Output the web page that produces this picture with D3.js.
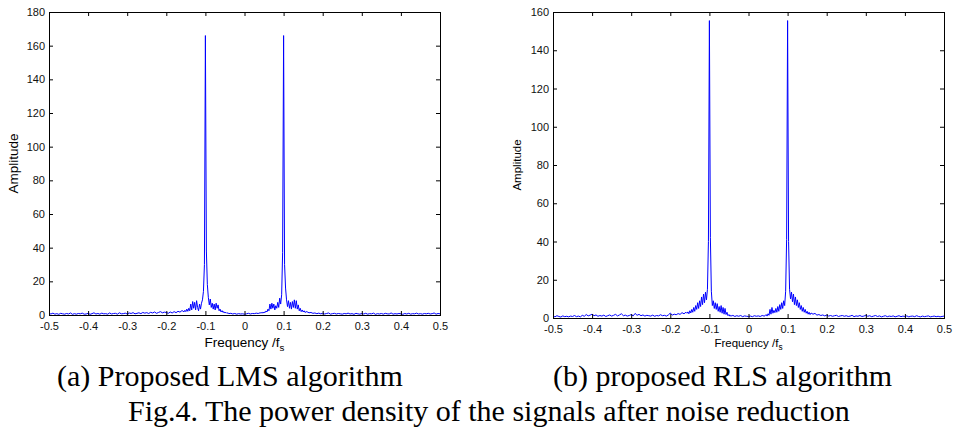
<!DOCTYPE html>
<html>
<head>
<meta charset="utf-8">
<script src="https://cdn.jsdelivr.net/npm/d3@7"></script>
<style>
    body { margin: 0; background: #fff; }
    svg { display: block; }
    .axis text { font-family: 'Liberation Sans', Arial, sans-serif; fill: #111; }
    .axis line { stroke: #000; }
    .caption { font-family: 'Liberation Serif', 'Times New Roman', serif; fill: #000; }
</style>
</head>
<body>
<script>
/* global d3 */

// frequency bins (normalised by fs): 0.005 apart in the flat parts,
// 0.0025 apart around the two tones
const seg = (a, b, step) => d3.range(Math.round((b - a) / step) + 1).map(k => +(a + k * step).toFixed(4));
const freqBins = [].concat(
    seg(-0.5, -0.16, 0.005),
    seg(-0.1575, -0.0425, 0.0025),
    seg(-0.04, 0.04, 0.005),
    seg(0.0425, 0.1575, 0.0025),
    seg(0.16, 0.5, 0.005)
);

const xTicks = [-0.5, -0.4, -0.3, -0.2, -0.1, 0, 0.1, 0.2, 0.3, 0.4, 0.5];
const yTicksLms = [0, 20, 40, 60, 80, 100, 120, 140, 160, 180];
const yTicksRls = [0, 20, 40, 60, 80, 100, 120, 140, 160];

// (a) proposed LMS, amplitude per bin
const ampLms = [
    // -0.5 .. -0.16
    0.9, 0.6, 1.1, 0.5, 0.8, 0.4, 1.0, 0.7, 0.5, 0.9,
    0.6, 1.2, 0.4, 0.8, 0.5, 0.9, 0.7, 1.1, 0.5, 0.6,
    1.0, 0.4, 0.8, 1.3, 0.6, 0.9, 0.5, 1.1, 0.7, 0.8,
    0.5, 1.2, 0.6, 0.9, 1.0, 0.5, 1.3, 0.7, 0.8, 1.1,
    0.6, 1.2, 0.9, 1.4, 0.7, 1.0, 1.3, 0.8, 1.5, 1.1,
    1.4, 0.9, 1.6, 1.2, 1.8, 1.0, 1.5, 2.0, 1.3, 1.7,
    1.5, 1.0, 1.8, 1.2, 2.0, 1.4, 2.2, 1.7, 2.6,
    // -0.1575 .. -0.0425
    2.4, 1.8, 2.8, 2.0, 3.5, 2.2, 4.0, 2.5, 6.5, 3.0,
    8.0, 4.0, 7.5, 3.0, 8.5, 4.5, 2.5, 6.5, 3.5, 7.0,
    9.0, 14, 30, 166, 38, 18, 10.5, 6.0, 9.5, 4.5,
    7.0, 3.5, 6.5, 3.0, 7.0, 4.0, 6.0, 2.5, 3.5, 1.8,
    2.6, 1.5, 2.0, 1.2, 1.6, 1.0, 1.3,
    // -0.04 .. 0.04
    0.8, 1.0, 0.6, 0.9, 0.5, 0.8, 0.6, 0.7, 0.5, 0.7,
    1.0, 0.6, 0.9, 0.8, 1.1, 0.9, 1.3,
    // 0.0425 .. 0.1575
    1.2, 1.6, 1.1, 1.8, 1.4, 2.4, 1.8, 3.5, 2.5, 6.5,
    3.5, 7.0, 4.0, 6.5, 3.0, 5.5, 4.0, 7.5, 4.5, 10.0,
    6.5, 12, 37, 166, 30, 16, 9.0, 5.0, 8.5, 4.0,
    7.5, 3.5, 8.0, 4.5, 9.0, 4.0, 8.5, 3.5, 6.0, 2.5,
    4.0, 2.0, 3.0, 1.8, 2.5, 1.5, 2.0,
    // 0.16 .. 0.5
    1.9, 1.3, 1.5, 1.0, 1.2, 0.8, 1.1, 0.7,
    1.0, 0.6, 0.9, 1.2, 0.5, 0.8, 1.0, 0.6, 0.9, 0.7,
    0.5, 0.9, 0.7, 1.1, 0.6, 0.8, 0.4, 1.0, 0.7, 0.5,
    0.9, 0.6, 1.0, 0.5, 0.8, 0.7, 1.1, 0.4, 0.8, 0.6,
    0.9, 0.5, 1.0, 0.7, 0.6, 1.2, 0.5, 0.8, 0.6, 0.9,
    0.7, 0.4, 0.9, 0.6, 1.0, 0.5, 0.8, 0.7, 1.1, 0.6,
    0.8, 0.5, 0.9, 0.7, 1.0, 0.6, 0.8, 1.2, 0.5, 0.9,
    0.7
];

// (b) proposed RLS, amplitude per bin
const ampRls = [
    // -0.5 .. -0.16
    1.0, 0.6, 1.2, 0.8, 0.5, 1.1, 0.7, 0.9, 0.6, 1.0,
    0.8, 1.3, 0.7, 1.0, 0.6, 1.4, 0.9, 1.8, 1.1, 1.5,
    2.0, 1.2, 1.6, 0.9, 1.3, 1.0, 1.5, 0.8, 1.2, 1.6,
    1.0, 1.4, 1.9, 1.1, 1.6, 2.2, 1.2, 1.5, 1.0, 1.3,
    1.8, 1.1, 2.4, 1.4, 1.9, 1.2, 1.6, 1.0, 1.4, 1.2,
    1.0, 1.5, 0.9, 1.3, 1.1, 1.7, 1.2, 1.4, 1.0, 1.6,
    2.6, 1.5, 2.0, 1.7, 2.3, 1.9, 2.8, 2.2, 3.0,
    // -0.1575 .. -0.0425
    2.5, 3.2, 2.2, 3.8, 2.6, 4.5, 3.0, 5.5, 3.5, 6.5,
    4.5, 8.0, 5.0, 9.0, 6.0, 11.0, 7.0, 12.5, 8.0, 13.5,
    9.5, 15, 40, 155.5, 42, 14, 6.5, 9.0, 5.0, 8.0,
    4.5, 7.5, 3.5, 6.0, 3.0, 6.5, 2.5, 5.5, 2.0, 5.0,
    1.8, 3.0, 1.2, 1.8, 0.9, 1.4, 1.0,
    // -0.04 .. 0.04
    1.4, 0.8, 1.2, 0.9, 1.3, 0.7, 1.1, 0.9, 0.8, 1.0,
    0.7, 1.2, 0.9, 1.1, 0.8, 1.3, 1.0,
    // 0.0425 .. 0.1575
    1.2, 1.8, 1.0, 2.2, 1.4, 4.5, 2.0, 5.5, 2.5, 4.0,
    2.8, 5.0, 3.0, 6.0, 3.5, 7.0, 4.5, 8.0, 5.0, 9.0,
    6.5, 14, 41, 155.5, 40, 15, 10.0, 13.5, 8.5, 12.5,
    7.0, 11.0, 6.5, 9.5, 5.5, 8.0, 4.5, 6.5, 3.5, 5.5,
    3.0, 4.5, 2.5, 3.5, 2.0, 3.0, 1.8,
    // 0.16 .. 0.5
    2.6, 2.0, 2.4, 1.5, 1.8, 1.3, 1.6, 1.1,
    1.5, 1.0, 1.3, 0.9, 1.2, 1.4, 0.8, 1.1, 1.3, 0.9,
    1.2, 0.8, 1.0, 1.4, 0.7, 1.1, 0.9, 1.3, 0.8, 1.0,
    1.4, 0.9, 1.2, 0.7, 1.0, 1.3, 0.8, 1.1, 0.6, 0.9,
    1.2, 0.7, 1.0, 0.8, 1.1, 0.6, 0.9, 1.2, 0.7, 1.0,
    0.8, 1.1, 0.6, 0.9, 1.0, 0.7, 1.2, 0.8, 0.6, 1.0,
    0.7, 0.9, 1.1, 0.6, 0.8, 1.0, 0.7, 0.9, 0.6, 0.8,
    1.0
];

const captions = ['(a) Proposed LMS algorithm', '(b) proposed RLS algorithm'];
const figTitle = 'Fig.4. The power density of the signals after noise reduction';

(() => {
    const W = 963, H = 437;

    const svg = d3.select('body').append('svg')
        .attr('width', W)
        .attr('height', H);

    const panels = [
        {
            id: 'lms', amp: ampLms, yMax: 180, yTicks: yTicksLms,
            box: {left: 49, top: 12, width: 391, height: 303},
            tickFont: 11, labelFont: 13.5, yLabelX: 13,
        },
        {
            id: 'rls', amp: ampRls, yMax: 160, yTicks: yTicksRls,
            box: {left: 553, top: 12, width: 391, height: 306},
            tickFont: 11, labelFont: 11.5, yLabelX: 517,
        },
    ];

    const fmt = d => (d === 0 ? '0' : String(+d.toFixed(1)));

    panels.forEach(p => {
        const b = p.box;
        const x = d3.scaleLinear().domain([-0.5, 0.5]).range([0, b.width]);
        const y = d3.scaleLinear().domain([0, p.yMax]).range([b.height, 0]);

        const g = svg.append('g')
            .attr('transform', `translate(${b.left}, ${b.top})`);

        svg.append('defs').append('clipPath')
            .attr('id', 'clip-' + p.id)
            .append('rect')
            .attr('width', b.width)
            .attr('height', b.height + 1);

        const line = d3.line()
            .x((d, i) => x(freqBins[i]))
            .y(d => y(d));

        g.append('path')
            .datum(p.amp)
            .attr('clip-path', `url(#clip-${p.id})`)
            .attr('fill', 'none')
            .attr('stroke', '#0000ff')
            .attr('stroke-width', 1)
            .attr('stroke-linejoin', 'round')
            .attr('d', line);

        // MATLAB-style ticks pointing inward on all four sides
        const xb = g.append('g')
            .attr('class', 'axis')
            .attr('transform', `translate(0, ${b.height})`)
            .call(d3.axisBottom(x).tickValues(xTicks).tickFormat(fmt)
                .tickSizeInner(-4).tickSizeOuter(0).tickPadding(7));
        xb.selectAll('text').style('font-size', p.tickFont + 'px');

        g.append('g')
            .attr('class', 'axis')
            .call(d3.axisTop(x).tickValues(xTicks).tickFormat('')
                .tickSizeInner(-4).tickSizeOuter(0));

        const yl = g.append('g')
            .attr('class', 'axis')
            .call(d3.axisLeft(y).tickValues(p.yTicks)
                .tickSizeInner(-4).tickSizeOuter(0).tickPadding(4));
        yl.selectAll('text').style('font-size', p.tickFont + 'px');

        g.append('g')
            .attr('class', 'axis')
            .attr('transform', `translate(${b.width}, 0)`)
            .call(d3.axisRight(y).tickValues(p.yTicks).tickFormat('')
                .tickSizeInner(-4).tickSizeOuter(0));

        g.selectAll('.axis .domain').remove();

        g.append('rect')
            .attr('width', b.width)
            .attr('height', b.height)
            .attr('fill', 'none')
            .attr('stroke', '#000')
            .attr('stroke-width', 1)
            .attr('shape-rendering', 'crispEdges');

        const xLabel = g.append('text')
            .attr('class', 'axis')
            .attr('x', b.width / 2)
            .attr('y', 347 - b.top)
            .attr('text-anchor', 'middle')
            .style('font-family', "'Liberation Sans', Arial, sans-serif")
            .style('font-size', p.labelFont + 'px')
            .text('Frequency /f');
        xLabel.append('tspan')
            .attr('dy', p.labelFont * 0.3)
            .style('font-size', (p.labelFont * 0.72) + 'px')
            .text('s');

        svg.append('text')
            .attr('transform', `translate(${p.yLabelX}, ${b.top + b.height / 2}) rotate(-90)`)
            .attr('text-anchor', 'middle')
            .attr('dy', '0.35em')
            .style('font-family', "'Liberation Sans', Arial, sans-serif")
            .style('font-size', p.labelFont + 'px')
            .text('Amplitude');
    });

    svg.selectAll('.caption-sub')
        .data(captions)
        .enter().append('text')
        .attr('class', 'caption')
        .attr('x', (d, i) => [57, 553][i])
        .attr('y', 386)
        .style('font-size', '30px')
        .text(d => d);

    svg.append('text')
        .attr('class', 'caption')
        .attr('x', 128)
        .attr('y', 421)
        .style('font-size', '30px')
        .text(figTitle);
})();
</script>
</body>
</html>
